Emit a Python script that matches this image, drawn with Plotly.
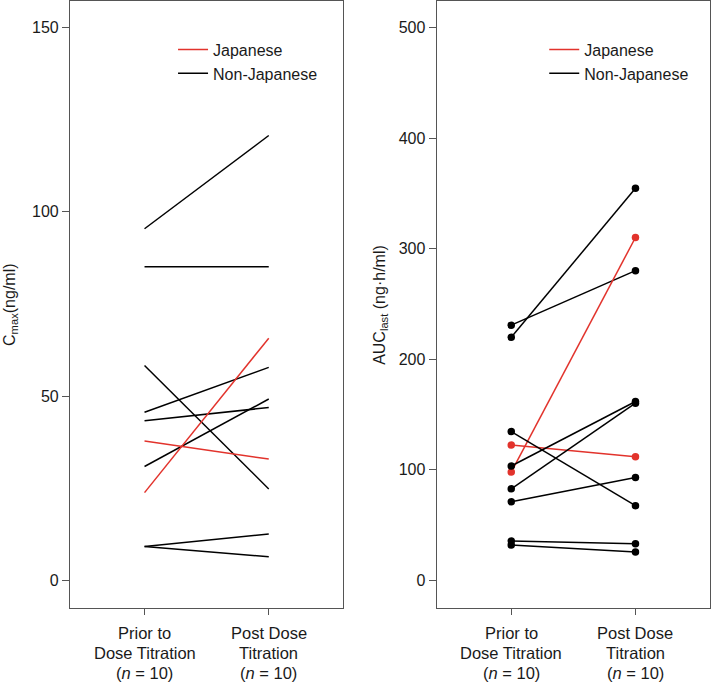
import plotly.graph_objects as go

# ---- data ----
categories = ["Prior to Dose Titration (n = 10)", "Post Dose Titration (n = 10)"]
cat_label_lines = [
    ["Prior to", "Dose Titration", "(<i>n</i> = 10)"],
    ["Post Dose", "Titration", "(<i>n</i> = 10)"],
]
groups = ["Non-Japanese", "Non-Japanese", "Non-Japanese", "Non-Japanese",
          "Non-Japanese", "Non-Japanese", "Japanese", "Japanese",
          "Non-Japanese", "Non-Japanese"]
cmax_prior = [95.4, 85.1, 58.3, 45.6, 43.3, 30.9, 37.8, 23.8, 9.2, 9.2]
cmax_post = [120.7, 85.1, 24.8, 57.8, 46.9, 49.2, 32.9, 65.7, 12.6, 6.4]

auc_groups = ["Non-Japanese", "Non-Japanese", "Japanese", "Japanese",
              "Non-Japanese", "Non-Japanese", "Non-Japanese", "Non-Japanese",
              "Non-Japanese", "Non-Japanese"]
auc_prior = [219.8, 230.8, 97.9, 122.4, 134.6, 103.4, 82.8, 71.0, 35.5, 32.0]
auc_post = [354.7, 280.1, 310.1, 111.7, 67.5, 161.8, 160.2, 93.1, 33.1, 25.7]

cmax_ticks = [0, 50, 100, 150]
auc_ticks = [0, 100, 200, 300, 400, 500]

colors = {"Japanese": "#e2332c", "Non-Japanese": "#000000"}
legend_order = ["Japanese", "Non-Japanese"]
FONT = "Arial, Liberation Sans, sans-serif"
TXT = "#1a1a1a"

fig = go.Figure()
xpos = [0, 1]

# left panel: Cmax (lines only)
for g, a, b in zip(groups, cmax_prior, cmax_post):
    fig.add_trace(go.Scatter(x=xpos, y=[a, b], mode="lines",
                             line=dict(color=colors[g], width=1.5),
                             showlegend=False, xaxis="x", yaxis="y",
                             hoverinfo="skip"))
# right panel: AUC (lines + markers)
for g, a, b in zip(auc_groups, auc_prior, auc_post):
    fig.add_trace(go.Scatter(x=xpos, y=[a, b], mode="lines+markers",
                             line=dict(color=colors[g], width=1.5),
                             marker=dict(color=colors[g], size=7.5),
                             showlegend=False, xaxis="x2", yaxis="y2",
                             hoverinfo="skip"))
# legend entries
for lg, xa, ya in [("legend", "x", "y"), ("legend2", "x2", "y2")]:
    for g in legend_order:
        fig.add_trace(go.Scatter(x=[None], y=[None], mode="lines",
                                 line=dict(color=colors[g], width=1.5),
                                 name=g, legend=lg, xaxis=xa, yaxis=ya))

axis_common = dict(showline=True, linecolor="#555555", linewidth=1.2,
                   mirror=True, showgrid=False, zeroline=False,
                   ticks="outside", tickcolor="#555555", tickwidth=1,
                   tickfont=dict(family=FONT, size=16, color=TXT))

fig.update_layout(
    width=711, height=684,
    margin=dict(l=70, r=1, t=1, b=76),
    plot_bgcolor="white", paper_bgcolor="white",
    font=dict(family=FONT, color=TXT),
    xaxis=dict(domain=[0, 0.427], range=[-0.6, 1.6], tickvals=xpos,
               showticklabels=False, ticklen=6, anchor="y", **axis_common),
    xaxis2=dict(domain=[0.573, 1], range=[-0.6, 1.6], tickvals=xpos,
                showticklabels=False, ticklen=6, anchor="y2", **axis_common),
    yaxis=dict(range=[-7.5, 157.2], tickvals=cmax_ticks, ticklen=7,
               anchor="x", **axis_common),
    yaxis2=dict(range=[-25, 524], tickvals=auc_ticks, ticklen=7,
                anchor="x2", **axis_common),
    legend=dict(x=0.161, y=0.948, xanchor="left", yanchor="top",
                font=dict(family=FONT, size=16, color=TXT),
                bgcolor="rgba(0,0,0,0)", tracegroupgap=0),
    legend2=dict(x=0.741, y=0.948, xanchor="left", yanchor="top",
                 font=dict(family=FONT, size=16, color=TXT),
                 bgcolor="rgba(0,0,0,0)", tracegroupgap=0),
)

annotations = []
# axis titles
annotations.append(dict(text="C<sub>max</sub>(ng/ml)", xref="paper", yref="paper",
                        x=-0.094, y=0.499, textangle=-90, showarrow=False,
                        xanchor="center", yanchor="middle",
                        font=dict(family=FONT, size=16, color=TXT)))
annotations.append(dict(text="AUC<sub>last</sub> (ng·h/ml)", xref="paper", yref="paper",
                        x=0.484, y=0.499, textangle=-90, showarrow=False,
                        xanchor="center", yanchor="middle",
                        font=dict(family=FONT, size=16, color=TXT)))
# category labels (three lines each) under both panels
line_y = [-0.0412, -0.0741, -0.1071]
for xa in ["x", "x2"]:
    for xi, lines in zip(xpos, cat_label_lines):
        for ly, txt in zip(line_y, lines):
            annotations.append(dict(text=txt, xref=xa, yref="paper", x=xi, y=ly,
                                    showarrow=False, xanchor="center", yanchor="middle",
                                    font=dict(family=FONT, size=16.5, color=TXT)))
fig.update_layout(annotations=annotations)

fig.write_html("out.html",
               config={"displayModeBar": False},
               post_script="document.body.style.margin='0';"
                           "document.body.style.overflow='hidden';")
